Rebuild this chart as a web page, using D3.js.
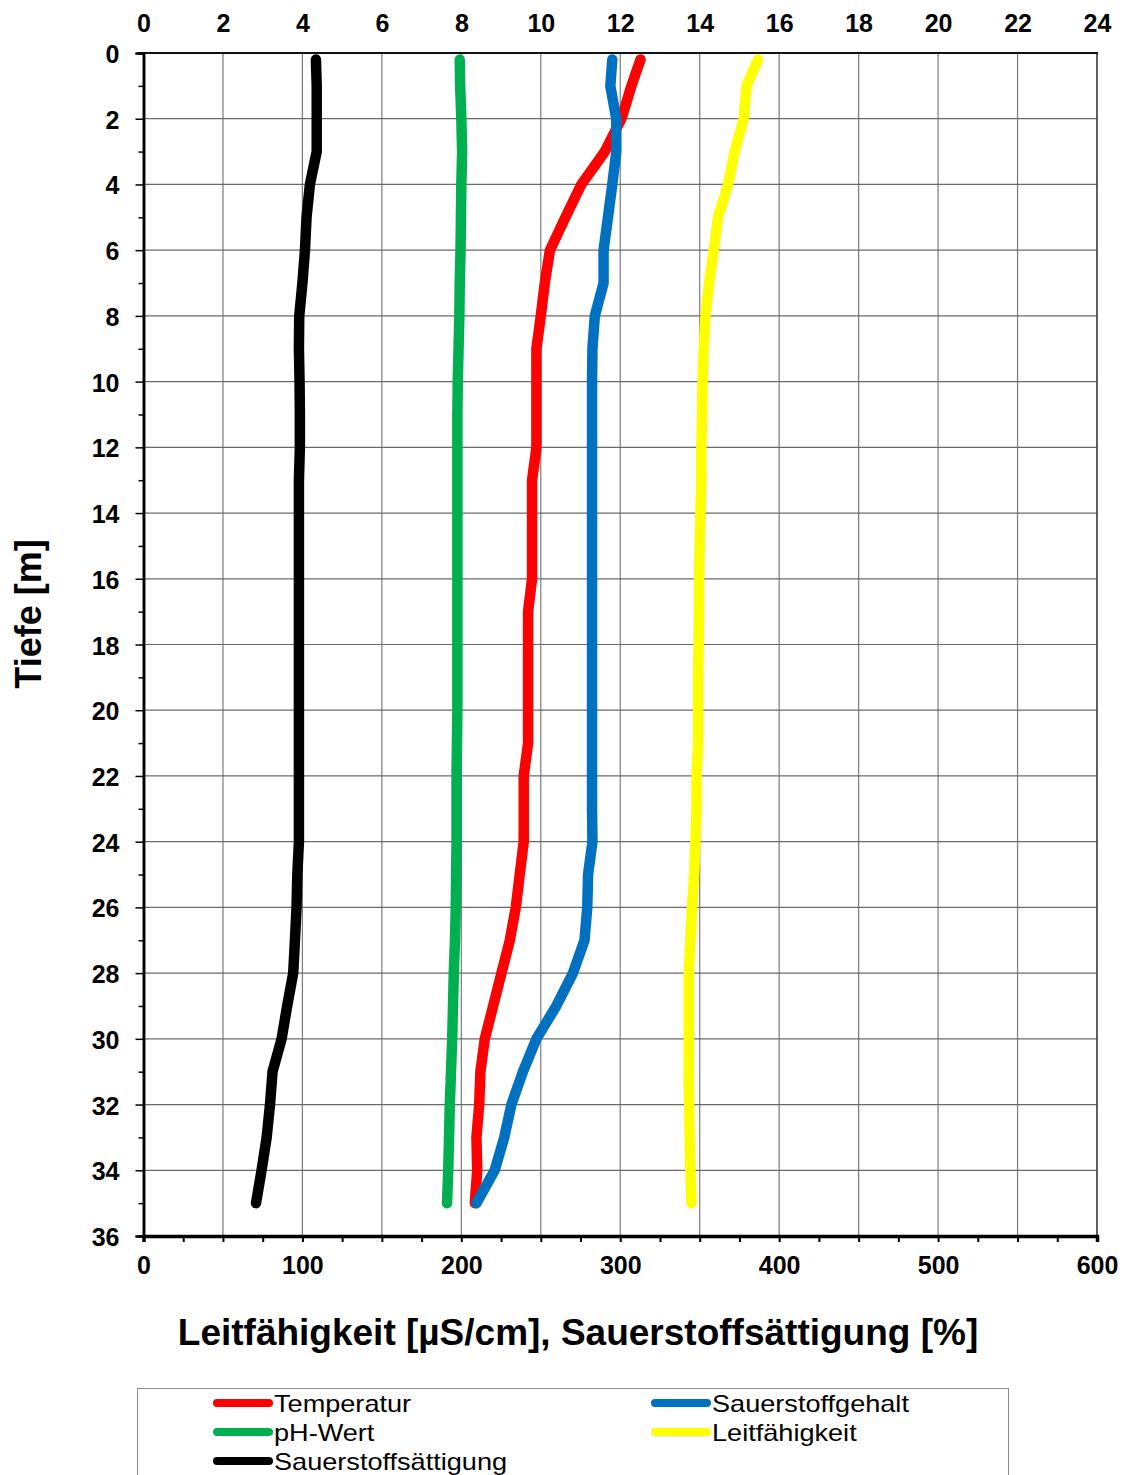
<!DOCTYPE html>
<html>
<head>
<meta charset="utf-8">
<script src="https://cdn.jsdelivr.net/npm/d3@7"></script>
<style>
  html, body { margin: 0; padding: 0; background: #fff; }
  svg { display: block; font-family: Arial, "Liberation Sans", sans-serif; }
</style>
</head>
<body>
<svg id="chart" width="1124" height="1475"></svg>
<script>
// ---- data ----
const depth = [0.2, 1, 2, 3, 4, 5, 6, 7, 8, 9, 10, 11, 12, 13, 14, 15, 16, 17, 18, 19, 20,
  21, 22, 23, 24, 25, 26, 27, 28, 29, 30, 31, 32, 33, 34, 35];

// top axis (0-24)
const temperatur = [12.51, 12.28, 12.03, 11.61, 11.02, 10.62, 10.23, 10.1, 10.0, 9.89, 9.89,
  9.89, 9.89, 9.78, 9.78, 9.78, 9.78, 9.68, 9.68, 9.68, 9.68, 9.68, 9.57, 9.57, 9.57,
  9.47, 9.37, 9.22, 9.01, 8.8, 8.59, 8.48, 8.45, 8.38, 8.4, 8.34];
const sauerstoffgehalt = [11.8, 11.75, 11.9, 11.9, 11.8, 11.69, 11.58, 11.58, 11.36, 11.3, 11.29,
  11.29, 11.29, 11.29, 11.29, 11.29, 11.29, 11.29, 11.29, 11.29, 11.29, 11.29, 11.29, 11.29, 11.3,
  11.19, 11.17, 11.1, 10.81, 10.39, 9.89, 9.55, 9.26, 9.08, 8.84, 8.38];
const phWert = [7.96, 7.97, 8.0, 8.02, 8.0, 7.99, 7.98, 7.96, 7.95, 7.93, 7.91,
  7.9, 7.9, 7.9, 7.9, 7.9, 7.9, 7.9, 7.9, 7.9, 7.9, 7.89, 7.88, 7.88, 7.88,
  7.87, 7.86, 7.84, 7.81, 7.79, 7.77, 7.74, 7.71, 7.69, 7.67, 7.64];

// bottom axis (0-600)
const leitfaehigkeit = [386.7, 379.4, 377.7, 372, 367.8, 361.5, 358.8, 355.9, 353.6, 352.5, 351.7,
  351.5, 351, 351, 350.4, 350, 349.6, 349.6, 349.3, 349, 349, 349, 348, 348, 347.3,
  346.5, 345.2, 344.1, 343.1, 343.1, 343.1, 343.1, 343.3, 343.7, 344.1, 344.8];
const saettigung = [108.5, 109, 109, 109, 104.7, 102.6, 101.6, 100, 98, 97.8, 98.2,
  98.4, 98.4, 97.8, 97.8, 97.8, 97.8, 97.8, 97.8, 97.8, 97.8, 97.8, 97.8, 97.8, 97.8,
  96.8, 96.3, 95.3, 94.2, 90.4, 86.9, 81.2, 79.6, 77.5, 74.3, 70.8];

const topTicks = [0, 2, 4, 6, 8, 10, 12, 14, 16, 18, 20, 22, 24];
const bottomTicks = [0, 100, 200, 300, 400, 500, 600];
const depthTicks = [0, 2, 4, 6, 8, 10, 12, 14, 16, 18, 20, 22, 24, 26, 28, 30, 32, 34, 36];

const seriesNames = ["Temperatur", "Sauerstoffgehalt", "pH-Wert", "Leitfähigkeit", "Sauerstoffsättigung"];
const seriesColors = ["#ff0000", "#0070c0", "#00b050", "#ffff00", "#000000"];

// ---- layout ----
const L = 143.5, R = 1097, T = 53, B = 1236;
const svg = d3.select("#chart");

const xTop = d3.scaleLinear().domain([0, 24]).range([L, R]);
const xBot = d3.scaleLinear().domain([0, 600]).range([L, R]);
const y = d3.scaleLinear().domain([0, 36]).range([T, B]);

// grid
const grid = svg.append("g");
grid.selectAll("line.v").data(d3.range(0, 601, 50)).join("line")
  .attr("x1", d => xBot(d)).attr("x2", d => xBot(d))
  .attr("y1", T).attr("y2", B)
  .attr("stroke", "#7a7a7a").attr("stroke-width", 1.2);
grid.selectAll("line.h").data(depthTicks).join("line")
  .attr("x1", L).attr("x2", R)
  .attr("y1", d => y(d)).attr("y2", d => y(d))
  .attr("stroke", "#6a6a6a").attr("stroke-width", 1.2);

// frame
svg.append("line").attr("x1", R).attr("x2", R).attr("y1", T).attr("y2", B)
  .attr("stroke", "#444").attr("stroke-width", 1.5);
svg.append("line").attr("x1", L - 1).attr("x2", R + 1).attr("y1", T).attr("y2", T)
  .attr("stroke", "#111").attr("stroke-width", 2.2);

// series
const lineTop = vals => d3.line().x((d, i) => xTop(vals[i])).y((d, i) => y(depth[i]))(depth);
const lineBot = vals => d3.line().x((d, i) => xBot(vals[i])).y((d, i) => y(depth[i]))(depth);

const drawOrder = [
  { vals: saettigung, f: lineBot, c: seriesColors[4] },
  { vals: phWert, f: lineTop, c: seriesColors[2] },
  { vals: leitfaehigkeit, f: lineBot, c: seriesColors[3] },
  { vals: temperatur, f: lineTop, c: seriesColors[0] },
  { vals: sauerstoffgehalt, f: lineTop, c: seriesColors[1] }
];
svg.append("g").selectAll("path").data(drawOrder).join("path")
  .attr("d", d => d.f(d.vals))
  .attr("fill", "none")
  .attr("stroke", d => d.c)
  .attr("stroke-width", 10.5)
  .attr("stroke-linecap", "round")
  .attr("stroke-linejoin", "round");

// axes
const fontTick = "bold 25px Arial, 'Liberation Sans', sans-serif";

const leftMajor = svg.append("g").attr("transform", `translate(${L},0)`)
  .call(d3.axisLeft(y).tickValues(depthTicks).tickSize(8).tickPadding(16).tickFormat(d3.format("d")));
const leftMinor = svg.append("g").attr("transform", `translate(${L},0)`)
  .call(d3.axisLeft(y).tickValues(d3.range(1, 36, 2)).tickSize(5).tickFormat(""));
[leftMajor, leftMinor].forEach(g => {
  g.select(".domain").attr("stroke", "#000").attr("stroke-width", 2.5);
  g.selectAll(".tick line").attr("stroke", "#000").attr("stroke-width", 1.5);
});
leftMajor.selectAll(".tick text").style("font", fontTick).attr("fill", "#000").attr("dy", "0.38em");

const bottomAxisG = svg.append("g").attr("transform", `translate(0,${B})`)
  .call(d3.axisBottom(xBot).tickValues(d3.range(0, 601, 25)).tickSize(6).tickPadding(14)
    .tickFormat(d => bottomTicks.includes(d) ? d3.format("d")(d) : ""));
bottomAxisG.select(".domain").attr("stroke", "#000").attr("stroke-width", 3.5);
bottomAxisG.selectAll(".tick line").attr("stroke", "#000").attr("stroke-width", 2);
bottomAxisG.selectAll(".tick text").style("font", fontTick).attr("fill", "#000");

const topAxisG = svg.append("g").attr("transform", `translate(0,${T})`)
  .call(d3.axisTop(xTop).tickValues(topTicks).tickSize(0).tickPadding(21).tickFormat(d3.format("d")));
topAxisG.select(".domain").remove();
topAxisG.selectAll(".tick text").style("font", fontTick).attr("fill", "#000");

// titles
svg.append("text")
  .attr("x", 578).attr("y", 1345)
  .attr("text-anchor", "middle")
  .style("font", "bold 37px Arial, 'Liberation Sans', sans-serif")
  .text("Leitfähigkeit [µS/cm], Sauerstoffsättigung [%]");
svg.append("text")
  .attr("transform", "translate(41,614) rotate(-90)")
  .attr("text-anchor", "middle")
  .style("font", "bold 36px Arial, 'Liberation Sans', sans-serif")
  .text("Tiefe [m]");

// legend
const lg = svg.append("g");
lg.append("rect").attr("x", 137.5).attr("y", 1388.5).attr("width", 871).attr("height", 100)
  .attr("fill", "#fff").attr("stroke", "#8c8c8c").attr("stroke-width", 1);
const legendItems = [
  { name: seriesNames[0], c: seriesColors[0], col: 0, row: 0 },
  { name: seriesNames[1], c: seriesColors[1], col: 1, row: 0 },
  { name: seriesNames[2], c: seriesColors[2], col: 0, row: 1 },
  { name: seriesNames[3], c: seriesColors[3], col: 1, row: 1 },
  { name: seriesNames[4], c: seriesColors[4], col: 0, row: 2 }
];
const colX = [217, 655], rowY = [1403, 1432, 1461];
const items = lg.selectAll("g.item").data(legendItems).join("g")
  .attr("transform", d => `translate(${colX[d.col]},${rowY[d.row]})`);
items.append("line").attr("x1", 0).attr("x2", 52).attr("y1", 0).attr("y2", 0)
  .attr("stroke", d => d.c).attr("stroke-width", 8).attr("stroke-linecap", "round");
items.append("text").attr("transform", "translate(57,0) scale(1.13,1)").attr("dy", "0.36em")
  .style("font", "24px Arial, 'Liberation Sans', sans-serif")
  .attr("fill", "#000")
  .text(d => d.name);
</script>
</body>
</html>
